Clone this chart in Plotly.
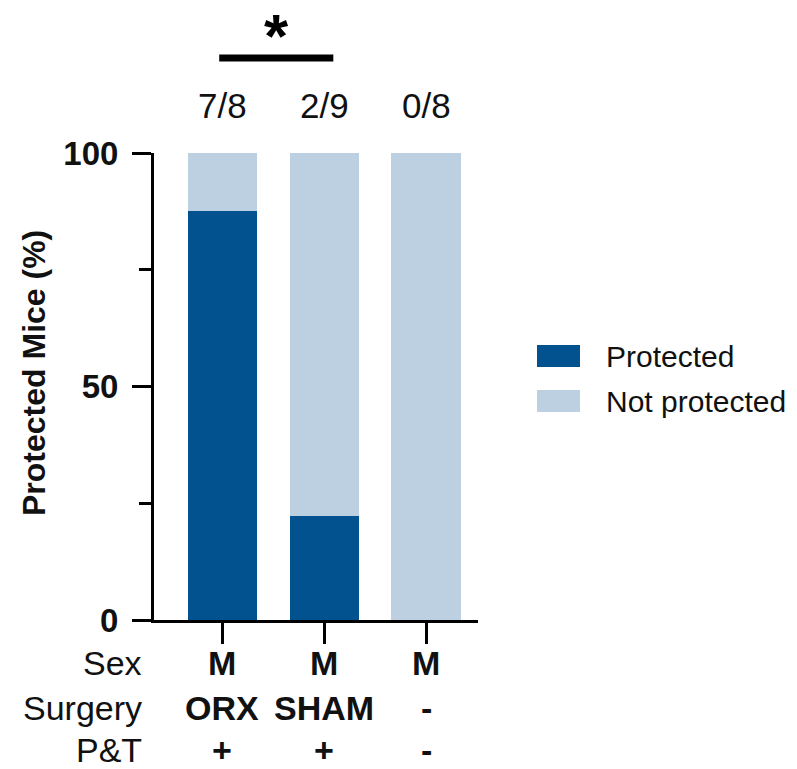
import plotly.graph_objects as go

# Group data
groups = ["ORX", "SHAM", "Ctrl"]
protected_n = [7, 2, 0]
total_n = [8, 9, 8]
sex_row = ["M", "M", "M"]
surgery_row = ["ORX", "SHAM", "-"]
pt_row = ["+", "+", "-"]
row_names = ["Sex", "Surgery", "P&T"]
series_names = ["Protected", "Not protected"]
y_ticks = [0, 50, 100]
y_minor = [25, 75]

protected_pct = [100.0 * p / t for p, t in zip(protected_n, total_n)]
not_protected_pct = [100.0 - v for v in protected_pct]
count_labels = [f"{p}/{t}" for p, t in zip(protected_n, total_n)]

DARK = "#02528f"
LIGHT = "#bdd0e2"
FONT = "Liberation Sans, Arial, sans-serif"
TXT = "#111111"

W, H = 797, 769
ML, MR, MT, MB = 154, 319, 153, 149
PW = W - ML - MR
PH = H - MT - MB


def px_to_paper_x(px):
    return (px - ML) / PW


def px_to_paper_y(py):
    return (H - MB - py) / PH


xs = list(range(len(groups)))

fig = go.Figure()
fig.add_trace(go.Bar(x=xs, y=protected_pct, name=series_names[0],
                     marker=dict(color=DARK, line=dict(width=0))))
fig.add_trace(go.Bar(x=xs, y=not_protected_pct, name=series_names[1],
                     marker=dict(color=LIGHT, line=dict(width=0))))

annotations = []
shapes = []

# n/N counts above the bars
for x, lab in zip(xs, count_labels):
    annotations.append(dict(x=x, xref="x", y=px_to_paper_y(106), yref="paper",
                            text=lab, showarrow=False, yanchor="middle",
                            font=dict(family=FONT, size=35, color=TXT)))

# significance bracket between the first two groups
shapes.append(dict(type="line", xref="x", yref="paper",
                   x0=-0.03, x1=1.09, y0=px_to_paper_y(58), y1=px_to_paper_y(58),
                   line=dict(color="black", width=7)))
annotations.append(dict(x=0.53, xref="x", y=px_to_paper_y(35), yref="paper",
                        text="<b>*</b>", showarrow=False, yanchor="middle",
                        font=dict(family=FONT, size=62, color="black")))

# y-axis title
annotations.append(dict(x=px_to_paper_x(34), xref="paper", y=px_to_paper_y(373),
                        yref="paper", text="Protected Mice (%)", textangle=-90,
                        showarrow=False, xanchor="center", yanchor="middle",
                        font=dict(family=FONT, size=32, color=TXT, weight="bold")))

# condition table below the x axis
row_y = [663, 708, 750]
rows = [sex_row, surgery_row, pt_row]
for name, py, vals in zip(row_names, row_y, rows):
    annotations.append(dict(x=px_to_paper_x(144), xref="paper", y=px_to_paper_y(py),
                            yref="paper", text=name, showarrow=False,
                            xanchor="right", yanchor="middle",
                            font=dict(family=FONT, size=34, color=TXT)))
    for x, v in zip(xs, vals):
        annotations.append(dict(x=x, xref="x", y=px_to_paper_y(py), yref="paper",
                                text=f"<b>{v}</b>", showarrow=False,
                                yanchor="middle",
                                font=dict(family=FONT, size=34, color=TXT)))

# legend
leg_items = [(series_names[0], DARK, 356), (series_names[1], LIGHT, 401)]
for name, col, cy in leg_items:
    shapes.append(dict(type="rect", xref="paper", yref="paper",
                       x0=px_to_paper_x(537), x1=px_to_paper_x(580),
                       y0=px_to_paper_y(cy - 11), y1=px_to_paper_y(cy + 11),
                       fillcolor=col, line=dict(width=0)))
    annotations.append(dict(x=px_to_paper_x(604), xref="paper", y=px_to_paper_y(cy),
                            yref="paper", text=name, showarrow=False,
                            xanchor="left", yanchor="middle",
                            font=dict(family=FONT, size=30, color=TXT)))

fig.update_layout(
    width=W, height=H,
    margin=dict(l=ML, r=MR, t=MT, b=MB, pad=0),
    paper_bgcolor="white", plot_bgcolor="white",
    barmode="stack", bargap=0.32,
    showlegend=False,
    annotations=annotations,
    shapes=shapes,
    xaxis=dict(range=[-0.67, 2.51], tickvals=xs, ticktext=["", "", ""],
               showgrid=False, zeroline=False, showline=True,
               linecolor="black", linewidth=3,
               ticks="outside", ticklen=21, tickwidth=3, tickcolor="black"),
    yaxis=dict(range=[0, 100], tickvals=y_ticks, showgrid=False, zeroline=False,
               showline=True, linecolor="black", linewidth=3,
               ticks="outside", ticklen=19, tickwidth=3, tickcolor="black",
               ticklabelstandoff=7,
               tickfont=dict(family=FONT, size=33, color=TXT, weight="bold"),
               minor=dict(tickvals=y_minor, ticks="outside", ticklen=12,
                          tickwidth=3, tickcolor="black")),
)

fig.write_html("out.html")
